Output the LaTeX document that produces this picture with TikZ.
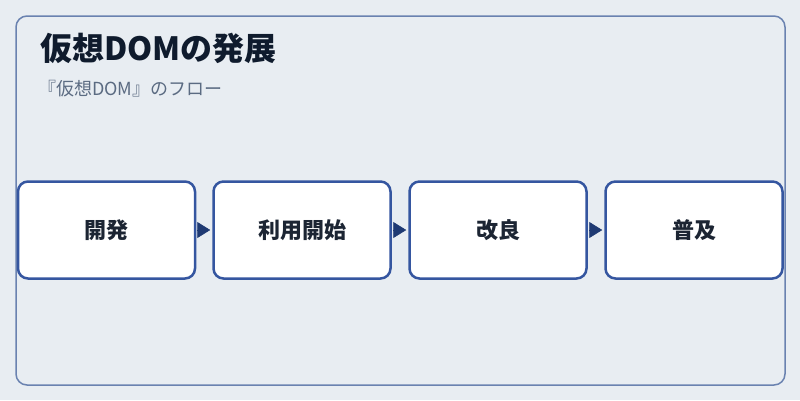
\documentclass[tikz,border=0pt]{standalone}
\usepackage{fontspec}
\newfontfamily\jp{Noto Sans CJK JP}
\usetikzlibrary{arrows.meta}
\definecolor{bg}{HTML}{E8EDF2}
\definecolor{frame}{HTML}{6A82B0}
\definecolor{boxline}{HTML}{3556A0}
\definecolor{titlec}{HTML}{0F1B2D}
\definecolor{subc}{HTML}{5B6B82}
\definecolor{textc}{HTML}{1C2533}
\definecolor{arrowc}{HTML}{1F3A73}
\tikzset{
  stepbox/.style={draw=boxline, line width=2.5pt, fill=white, rounded corners=10pt,
    minimum width=177pt, minimum height=97pt, inner sep=0pt,
    font=\jp\bfseries\fontsize{22}{26}\selectfont, text=textc},
  flowarrow/.style={draw=arrowc, line width=0.6pt, shorten <=2pt, shorten >=2pt,
    -{Triangle[length=13pt,width=16pt]}, arrowc},
}
\begin{document}
\begin{tikzpicture}[x=1pt,y=-1pt]
\useasboundingbox[fill=bg] (0,0) rectangle (800,400);
\draw[frame, line width=1.5pt, rounded corners=11pt] (16,16) rectangle (785,385);
\node[anchor=west, font=\jp\bfseries\fontsize{32}{36}\selectfont, text=titlec, inner sep=0pt] (title) at (40,48) {仮想DOMの発展};
\node[anchor=west, font=\jp\fontsize{18}{22}\selectfont, text=subc, inner sep=0pt] (sub) at (38,89) {『仮想DOM』のフロー};
\node[stepbox] (s1) at (106.5,230) {\raisebox{-2pt}{開発}};
\node[stepbox] (s2) at (302,230) {\raisebox{-2pt}{利用開始}};
\node[stepbox] (s3) at (498,230) {\raisebox{-2pt}{改良}};
\node[stepbox] (s4) at (694,230) {\raisebox{-2pt}{普及}};
\draw[flowarrow] (s1.east) -- (s2.west);
\draw[flowarrow] (s2.east) -- (s3.west);
\draw[flowarrow] (s3.east) -- (s4.west);
\end{tikzpicture}
\end{document}
